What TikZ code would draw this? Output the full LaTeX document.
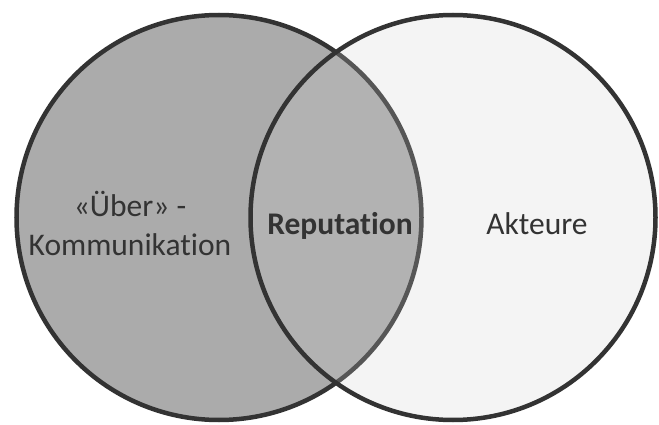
\documentclass[tikz,border=0pt]{standalone}
\usepackage{fontspec}
\setmainfont{Carlito}[Ligatures=NoCommon]
\begin{document}
\begin{tikzpicture}[x=1pt,y=-1pt,
  ring/.style={draw=ringgray, line width=4.5pt},
  lbl/.style={text=textgray, font=\fontsize{31.5}{39}\selectfont, align=center, inner sep=0pt, anchor=base}]
\definecolor{ringgray}{HTML}{333333}
\definecolor{textgray}{HTML}{333333}
\definecolor{leftfill}{HTML}{ABABAB}
\definecolor{rightfill}{HTML}{CECECE}
\useasboundingbox (0,0) rectangle (659,425);
% communication circle
\draw[ring, fill=leftfill] (219,217.5) circle[radius=202.5];
% actors circle, translucent so the overlap stays grey
\fill[rightfill, fill opacity=0.226] (453,217.5) circle[radius=202.5];
\draw[ring] (453,217.5) circle[radius=202.5];
% labels
\node[lbl] (comm) at (130,255) {«Über» -\\Kommunikation};
\node[lbl, font=\fontsize{31.5}{39}\selectfont\bfseries] (rep) at (340,234) {Reputation};
\node[lbl] (akt) at (537,234) {Akteure};
\end{tikzpicture}
\end{document}
